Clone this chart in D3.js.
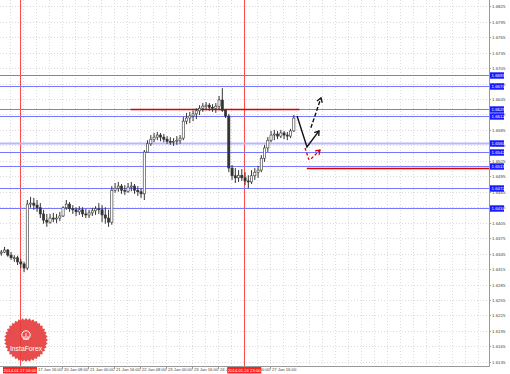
<!DOCTYPE html>
<html>
<head>
<meta charset="utf-8">
<script src="https://cdn.jsdelivr.net/npm/d3@7"></script>
<style>
  body { margin: 0; background: #fff; }
  svg { display: block; }
</style>
</head>
<body>
<script>
// GBPUSD, 2-hour steps (hour 0 = 16 Jan 18:00)
const highs = [
  1.6352, 1.6358, 1.6354, 1.6348, 1.6342, 1.6341, 1.6335, 1.6329, 1.6449, 1.6455,
  1.6453, 1.6449, 1.6443, 1.6430, 1.6422, 1.6422, 1.6424, 1.6422, 1.6426, 1.6437,
  1.6449, 1.6445, 1.6439, 1.6435, 1.6437, 1.6435, 1.6432, 1.6430, 1.6434, 1.6437,
  1.6443, 1.6439, 1.6435, 1.6430, 1.6476, 1.6482, 1.6484, 1.6480, 1.6478, 1.6482,
  1.6484, 1.6480, 1.6476, 1.6472, 1.6546, 1.6565, 1.6575, 1.6579, 1.6581, 1.6579,
  1.6577, 1.6573, 1.6571, 1.6569, 1.6573, 1.6575, 1.6610, 1.6618, 1.6620, 1.6623,
  1.6627, 1.6633, 1.6637, 1.6639, 1.6637, 1.6635, 1.6637, 1.6651, 1.6666, 1.6625,
  1.6616, 1.6517, 1.6511, 1.6507, 1.6509, 1.6503, 1.6497, 1.6507, 1.6511, 1.6515,
  1.6536, 1.6556, 1.6571, 1.6583, 1.6585, 1.6583, 1.6585, 1.6583, 1.6581, 1.6587,
  1.6614
];
const lows = [
  1.6341, 1.6346, 1.6339, 1.6333, 1.6329, 1.6323, 1.6317, 1.6309, 1.6313, 1.6434,
  1.6430, 1.6426, 1.6414, 1.6403, 1.6397, 1.6403, 1.6406, 1.6404, 1.6408, 1.6416,
  1.6430, 1.6426, 1.6422, 1.6418, 1.6420, 1.6416, 1.6414, 1.6414, 1.6418, 1.6420,
  1.6422, 1.6406, 1.6403, 1.6397, 1.6401, 1.6463, 1.6465, 1.6461, 1.6459, 1.6463,
  1.6466, 1.6461, 1.6457, 1.6453, 1.6449, 1.6542, 1.6554, 1.6561, 1.6565, 1.6563,
  1.6561, 1.6558, 1.6556, 1.6554, 1.6556, 1.6558, 1.6565, 1.6596, 1.6598, 1.6602,
  1.6606, 1.6614, 1.6620, 1.6623, 1.6622, 1.6620, 1.6618, 1.6623, 1.6620, 1.6608,
  1.6503, 1.6488, 1.6482, 1.6484, 1.6486, 1.6478, 1.6472, 1.6480, 1.6488, 1.6492,
  1.6503, 1.6523, 1.6542, 1.6561, 1.6565, 1.6567, 1.6569, 1.6567, 1.6565, 1.6569,
  1.6581
];
const closes = [
  1.6348, 1.6352, 1.6342, 1.6337, 1.6337, 1.6329, 1.6325, 1.6317, 1.6441, 1.6443,
  1.6439, 1.6434, 1.6422, 1.6410, 1.6406, 1.6414, 1.6412, 1.6414, 1.6418, 1.6434,
  1.6441, 1.6432, 1.6430, 1.6426, 1.6430, 1.6422, 1.6420, 1.6424, 1.6428, 1.6432,
  1.6430, 1.6420, 1.6414, 1.6406, 1.6468, 1.6472, 1.6476, 1.6468, 1.6466, 1.6474,
  1.6476, 1.6468, 1.6465, 1.6461, 1.6542, 1.6558, 1.6567, 1.6571, 1.6575, 1.6571,
  1.6567, 1.6563, 1.6561, 1.6563, 1.6565, 1.6569, 1.6602, 1.6608, 1.6612, 1.6616,
  1.6622, 1.6627, 1.6631, 1.6633, 1.6629, 1.6627, 1.6631, 1.6643, 1.6623, 1.6612,
  1.6511, 1.6496, 1.6492, 1.6497, 1.6492, 1.6486, 1.6484, 1.6496, 1.6503, 1.6507,
  1.6530, 1.6550, 1.6565, 1.6575, 1.6577, 1.6573, 1.6579, 1.6575, 1.6573, 1.6583,
  1.6608
];
const firstOpen = 1.6346;
const barHours = 2;

const priceTicks = [
  1.6825, 1.6795, 1.6765, 1.6735, 1.6705, 1.6675, 1.6645, 1.6615, 1.6585, 1.6555,
  1.6525, 1.6495, 1.6465, 1.6435, 1.6405, 1.6375, 1.6345, 1.6315, 1.6285, 1.6255,
  1.6225, 1.6195, 1.6165, 1.6135
];
const timeLabels = [
  "17 Jan 00:00", "17 Jan 16:00", "20 Jan 08:00", "21 Jan 00:00", "21 Jan 16:00",
  "22 Jan 08:00", "23 Jan 00:00", "23 Jan 16:00", "24 Jan 08:00", "27 Jan 00:00",
  "27 Jan 16:00"
];
const timeLabelHours = [6, 22, 38, 54, 70, 86, 102, 118, 134, 150, 166];

const blueLevels = [1.6691, 1.6670, 1.6625, 1.6612, 1.6560, 1.6542, 1.6515, 1.6472, 1.6434];
const redLevels = [
  { price: 1.6625, from: 80, to: 184 },
  { price: 1.6511, from: 188.5, to: 301 }
];
const markerHours = [12, 150];
const markerLabels = ["2014.01.17 06:00", "2014.01.24 23:00"];

// hand-drawn forecast strokes, [hour, price]
const blackSolid = [[182.5, 1.6612], [188.6, 1.6552], [196, 1.6583]];
const blackDashed = [[191, 1.6589], [197.2, 1.6647]];
const redDashed1 = [[187.4, 1.6550], [189.8, 1.6527]];
const redDashed2 = [[191.2, 1.6529], [196.6, 1.6546]];

const W = 510, H = 374;
const plotRight = 489, plotBottom = 366;

const svg = d3.select("body").append("svg")
  .attr("width", W).attr("height", H)
  .style("font-family", "'Liberation Sans', Arial, sans-serif");

const x = d3.scaleLinear().domain([0, 300]).range([0.5, 0.5 + 300 * 1.625]);
const y = d3.scaleLinear().domain([1.6127, 1.6837]).range([plotBottom, 0]);

// grid
const grid = svg.append("g").attr("stroke", "#dcdcdc").attr("stroke-dasharray", "1,2");
priceTicks.forEach(p => {
  grid.append("line")
    .attr("x1", 0).attr("x2", plotRight)
    .attr("y1", Math.round(y(p)) + 0.5).attr("y2", Math.round(y(p)) + 0.5);
});
for (let h = 6; x(h) < plotRight; h += 8) {
  const gx = Math.round(x(h)) + 0.5;
  grid.append("line").attr("x1", gx).attr("x2", gx).attr("y1", 0).attr("y2", plotBottom);
}

// red vertical markers
markerHours.forEach(h => {
  const mx = Math.round(x(h)) + 0.5;
  svg.append("line").attr("x1", mx).attr("x2", mx).attr("y1", 0).attr("y2", plotBottom)
    .attr("stroke", "#ff4a4a").attr("stroke-width", 1);
});

// horizontal levels
blueLevels.forEach((p, i) => {
  const ly = Math.round(y(p)) + 0.5;
  svg.append("line").attr("x1", 0).attr("x2", plotRight).attr("y1", ly).attr("y2", ly)
    .attr("stroke", i === 4 ? "#b8b8ff" : "#7878ff")
    .attr("stroke-width", i === 4 ? 2 : 1);
});
redLevels.forEach(r => {
  const ly = Math.round(y(r.price)) + 0.5;
  svg.append("line").attr("x1", x(r.from)).attr("x2", Math.min(plotRight, x(r.to)))
    .attr("y1", ly).attr("y2", ly)
    .attr("stroke", "#e00000").attr("stroke-width", 1.5);
});

// bars
const bars = svg.append("g");
closes.forEach((c, i) => {
  const o = i === 0 ? firstOpen : closes[i - 1];
  const cx = x(i * barHours + 0.5);
  bars.append("line")
    .attr("x1", cx).attr("x2", cx)
    .attr("y1", y(highs[i])).attr("y2", y(lows[i]))
    .attr("stroke", "#333").attr("stroke-width", 1);
  const top = y(Math.max(o, c)), bot = y(Math.min(o, c));
  bars.append("rect")
    .attr("x", cx - 1.1).attr("width", 2.2)
    .attr("y", top).attr("height", Math.max(1, bot - top))
    .attr("fill", c >= o ? "#fff" : "#333")
    .attr("stroke", "#333").attr("stroke-width", 0.6);
});

// forecast strokes
const line = d3.line().x(d => x(d[0])).y(d => y(d[1]));
function arrowHead(pts, color) {
  const a = pts[pts.length - 2], b = pts[pts.length - 1];
  const ax = x(a[0]), ay = y(a[1]), bx = x(b[0]), by = y(b[1]);
  const ang = Math.atan2(by - ay, bx - ax);
  const len = 5;
  const p1 = [bx - len * Math.cos(ang - 0.6), by - len * Math.sin(ang - 0.6)];
  const p2 = [bx - len * Math.cos(ang + 0.6), by - len * Math.sin(ang + 0.6)];
  svg.append("path")
    .attr("d", `M${p1[0]},${p1[1]}L${bx},${by}L${p2[0]},${p2[1]}`)
    .attr("fill", "none").attr("stroke", color).attr("stroke-width", 1.3);
}
svg.append("path").attr("d", line(blackSolid)).attr("fill", "none")
  .attr("stroke", "#111").attr("stroke-width", 1.4);
arrowHead(blackSolid, "#111");
svg.append("path").attr("d", line(blackDashed)).attr("fill", "none")
  .attr("stroke", "#111").attr("stroke-width", 1.4).attr("stroke-dasharray", "4,2");
arrowHead(blackDashed, "#111");
svg.append("path").attr("d", line(redDashed1)).attr("fill", "none")
  .attr("stroke", "#e00000").attr("stroke-width", 1.3).attr("stroke-dasharray", "3,2");
svg.append("path").attr("d", line(redDashed2)).attr("fill", "none")
  .attr("stroke", "#e00000").attr("stroke-width", 1.3).attr("stroke-dasharray", "3,2");
arrowHead(redDashed2, "#e00000");

// frame
svg.append("line").attr("x1", plotRight + 0.5).attr("x2", plotRight + 0.5)
  .attr("y1", 0).attr("y2", plotBottom + 0.5).attr("stroke", "#999");
svg.append("line").attr("x1", 0).attr("x2", plotRight + 0.5)
  .attr("y1", plotBottom + 0.5).attr("y2", plotBottom + 0.5).attr("stroke", "#999");

// price axis
const py = svg.append("g");
priceTicks.forEach(p => {
  const ty = Math.round(y(p)) + 0.5;
  py.append("line").attr("x1", plotRight).attr("x2", plotRight + 2)
    .attr("y1", ty).attr("y2", ty).attr("stroke", "#999");
  py.append("text").attr("x", plotRight + 3).attr("y", ty)
    .attr("dy", "0.35em").attr("font-size", 4.4).attr("fill", "#444")
    .text(d3.format(".4f")(p));
});
blueLevels.forEach(p => {
  const ty = Math.round(y(p)) + 0.5;
  py.append("rect").attr("x", plotRight + 1).attr("y", ty - 3.2)
    .attr("width", 14).attr("height", 6.4).attr("fill", "#1a1aff");
  py.append("text").attr("x", plotRight + 2.5).attr("y", ty)
    .attr("dy", "0.35em").attr("font-size", 4.4).attr("fill", "#fff")
    .text(d3.format(".4f")(p));
});

// time axis
const tx = svg.append("g");
timeLabels.forEach((t, i) => {
  const lx = Math.round(x(timeLabelHours[i])) + 0.5;
  tx.append("line").attr("x1", lx).attr("x2", lx)
    .attr("y1", plotBottom).attr("y2", plotBottom + 3).attr("stroke", "#999");
  tx.append("text").attr("x", lx + 1.5).attr("y", plotBottom + 4)
    .attr("dy", "0.35em").attr("font-size", 4.2).attr("fill", "#444").text(t);
});
markerHours.forEach((h, i) => {
  const mx = x(h);
  tx.append("rect").attr("x", Math.max(0, mx - 17)).attr("y", plotBottom + 1)
    .attr("width", 34).attr("height", 6.5).attr("fill", "#ff2020");
  tx.append("text").attr("x", Math.max(17, mx)).attr("y", plotBottom + 4.3)
    .attr("dy", "0.35em").attr("text-anchor", "middle")
    .attr("font-size", 4.2).attr("fill", "#fff").text(markerLabels[i]);
});

// InstaForex badge
const logo = svg.append("g").attr("transform", "translate(26,340)");
const spikes = 36, rOut = 22, rIn = 20;
const starPts = d3.range(spikes * 2).map(k => {
  const r = k % 2 ? rIn : rOut;
  const a = k * Math.PI / spikes;
  return [r * Math.cos(a), r * Math.sin(a)];
});
logo.append("path").attr("d", "M" + starPts.join("L") + "Z")
  .attr("fill", "#e53a3a").attr("opacity", 0.9);
logo.append("circle").attr("cx", 0).attr("cy", -5).attr("r", 4.2)
  .attr("fill", "none").attr("stroke", "#fff").attr("stroke-width", 1);
logo.append("path").attr("d", "M-2,-4L-2,0M0,-7L0,0M2,-4L2,0")
  .attr("stroke", "#fff").attr("stroke-width", 0.9);
logo.append("text").attr("x", 0).attr("y", 11).attr("text-anchor", "middle")
  .attr("font-size", 6.8).attr("fill", "#fff").text("InstaForex");
</script>
</body>
</html>
